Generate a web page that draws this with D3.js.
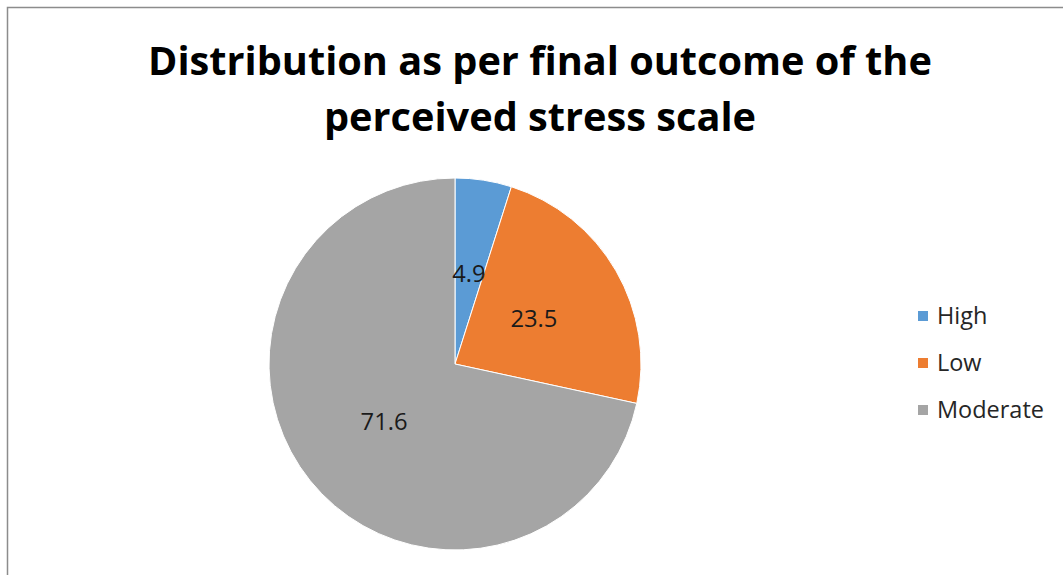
<!DOCTYPE html>
<html><head><meta charset="utf-8">
<script src="https://cdn.jsdelivr.net/npm/d3@7"></script>
<style>html,body{margin:0;padding:0;background:#fff;}</style>
</head><body>
<svg id="c" width="1063" height="575"></svg>
<script>
const categories = ["High", "Low", "Moderate"];
const values = [4.9, 23.5, 71.6];
const colors = ["#5B9BD5", "#ED7D31", "#A5A5A5"];
const titleLines = ["Distribution as per final outcome of the", "perceived stress scale"];

const svg = d3.select("#c");
const font = "Open Sans, Lato, sans-serif";

svg.append("rect").attr("x", 7.5).attr("y", 7.5).attr("width", 1070).attr("height", 590)
  .attr("fill", "#fff").attr("stroke", "#8c8c8c").attr("stroke-width", 1.5);

function fitText(sel, target) {
  const w = sel.node().getComputedTextLength();
  const fs = parseFloat(sel.attr("font-size"));
  sel.attr("font-size", fs * target / w);
}

const t1 = svg.append("text").attr("x", 540).attr("y", 75).attr("text-anchor", "middle")
  .attr("font-family", font).attr("font-weight", "bold").attr("font-size", 40).attr("fill", "#000")
  .text(titleLines[0]);
fitText(t1, 784);
const fsTitle = +t1.attr("font-size");
svg.append("text").attr("x", 540).attr("y", 131).attr("text-anchor", "middle")
  .attr("font-family", font).attr("font-weight", "bold").attr("font-size", fsTitle).attr("fill", "#000")
  .text(titleLines[1]);

const cx = 455, cy = 364, R = 186;
const pie = d3.pie().sort(null).value(d => d)(values);
const arc = d3.arc().innerRadius(0).outerRadius(R);
const labelArc = d3.arc().innerRadius(R * 0.49).outerRadius(R * 0.49);
const g = svg.append("g").attr("transform", `translate(${cx},${cy})`);
g.selectAll("path").data(pie).join("path")
  .attr("d", arc).attr("fill", (d, i) => colors[i])
  .attr("stroke", "#fff").attr("stroke-width", 1);

const lbls = g.selectAll("text.lbl").data(pie).join("text").attr("class", "lbl")
  .attr("transform", d => `translate(${labelArc.centroid(d)})`)
  .attr("text-anchor", "middle").attr("dy", "0.35em")
  .attr("font-family", font).attr("font-size", 20).attr("fill", "#1a1a1a")
  .text(d => d.data.toFixed(1));
// fit label size from "23.5" width ~47px
const l1 = lbls.filter((d, i) => i === 1);
const lw = l1.node().getComputedTextLength();
lbls.attr("font-size", 20 * 47 / lw);

const legY = [316, 363, 410];
const lg = svg.append("g");
categories.forEach((c, i) => {
  lg.append("rect").attr("x", 918).attr("y", legY[i] - 5).attr("width", 10).attr("height", 10).attr("fill", colors[i]);
  lg.append("text").attr("class", "leg").attr("x", 937).attr("y", legY[i]).attr("dy", "0.35em")
    .attr("font-family", font).attr("font-size", 20).attr("fill", "#262626").text(c);
});
const mt = lg.selectAll("text.leg").filter((d, i, n) => n[i].textContent === "Moderate");
const mw = mt.node().getComputedTextLength();
lg.selectAll("text.leg").attr("font-size", 20 * 107 / mw);
</script>
</body></html>
